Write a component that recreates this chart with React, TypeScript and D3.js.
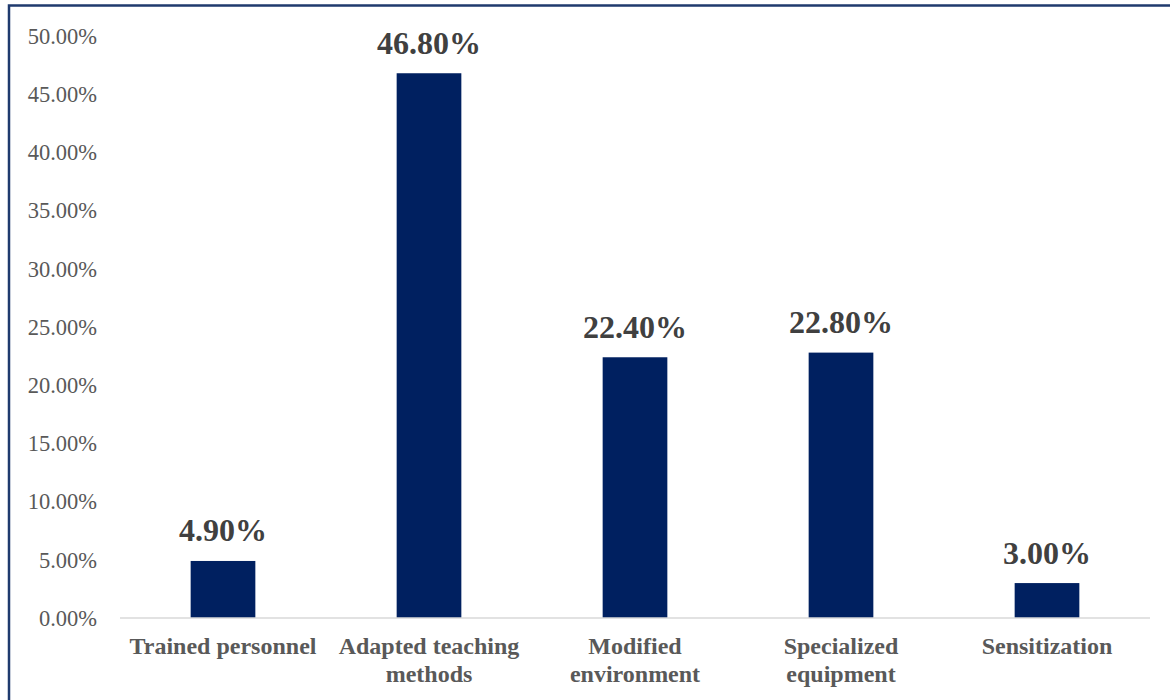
import React, { useRef, useEffect } from 'react';
import * as d3 from 'd3';

// categories (multi-line labels split by \n)
const categories = [
  'Trained personnel',
  'Adapted teaching\nmethods',
  'Modified\nenvironment',
  'Specialized\nequipment',
  'Sensitization',
];
const values = [4.9, 46.8, 22.4, 22.8, 3.0];
const yTicks = [0, 5, 10, 15, 20, 25, 30, 35, 40, 45, 50];

export default function App() {
  const chartRef = useRef<SVGSVGElement>(null);
  const width = 1170, height = 700;

  useEffect(() => {
    const margin = { top: 36, right: 20, bottom: 82, left: 120 };
    const svg = d3.select(chartRef.current);
    svg.selectAll('*').remove();

    const font = '"Liberation Serif", "Times New Roman", serif';

    svg.append('rect')
      .attr('width', width).attr('height', height).attr('fill', '#fff');

    // outer border (cropped on right/bottom)
    svg.append('rect')
      .attr('x', 9).attr('y', 5.5)
      .attr('width', width + 20).attr('height', height + 20)
      .attr('fill', 'none')
      .attr('stroke', '#1f3a6e')
      .attr('stroke-width', 2.5);

    const xScale = d3.scaleBand()
      .domain(categories)
      .range([margin.left, 1150])
      .paddingInner(0.686)
      .paddingOuter(0.343);

    const yScale = d3.scaleLinear()
      .domain([0, 50])
      .range([618, 36]);

    // y tick labels
    svg.append('g').selectAll('text').data(yTicks).join('text')
      .attr('x', 97)
      .attr('y', d => yScale(d))
      .attr('dy', '0.35em')
      .attr('text-anchor', 'end')
      .attr('font-family', font)
      .attr('font-size', 22.5)
      .attr('fill', '#595959')
      .text(d => d.toFixed(2) + '%');

    // bars
    svg.append('g').selectAll('rect').data(values).join('rect')
      .attr('x', (d, i) => xScale(categories[i])!)
      .attr('y', d => yScale(d))
      .attr('width', xScale.bandwidth())
      .attr('height', d => yScale(0) - yScale(d))
      .attr('fill', '#002060');

    // baseline
    svg.append('line')
      .attr('x1', margin.left).attr('x2', 1150)
      .attr('y1', yScale(0)).attr('y2', yScale(0))
      .attr('stroke', '#d9d9d9').attr('stroke-width', 1.5);

    // data labels
    svg.append('g').selectAll('text').data(values).join('text')
      .attr('x', (d, i) => xScale(categories[i])! + xScale.bandwidth() / 2)
      .attr('y', d => yScale(d) - 19.5)
      .attr('text-anchor', 'middle')
      .attr('font-family', font)
      .attr('font-weight', 'bold')
      .attr('font-size', 32)
      .attr('fill', '#404040')
      .text(d => d.toFixed(2) + '%');

    // category labels
    const cat = svg.append('g').selectAll('text').data(categories).join('text')
      .attr('x', d => xScale(d)! + xScale.bandwidth() / 2)
      .attr('y', 654)
      .attr('text-anchor', 'middle')
      .attr('font-family', font)
      .attr('font-weight', 'bold')
      .attr('font-size', 24)
      .attr('fill', '#595959');
    cat.each(function (d) {
      const t = d3.select(this);
      const x = xScale(d)! + xScale.bandwidth() / 2;
      d.split('\n').forEach((line, i) => {
        t.append('tspan').attr('x', x).attr('dy', i === 0 ? 0 : 28).text(line);
      });
    });
  }, []);

  return (
    <div>
      <svg
        width={width}
        height={height}
        ref={chartRef}
        style={{ position: 'absolute', left: 0, top: 0, display: 'block' }}
      />
    </div>
  );
}
